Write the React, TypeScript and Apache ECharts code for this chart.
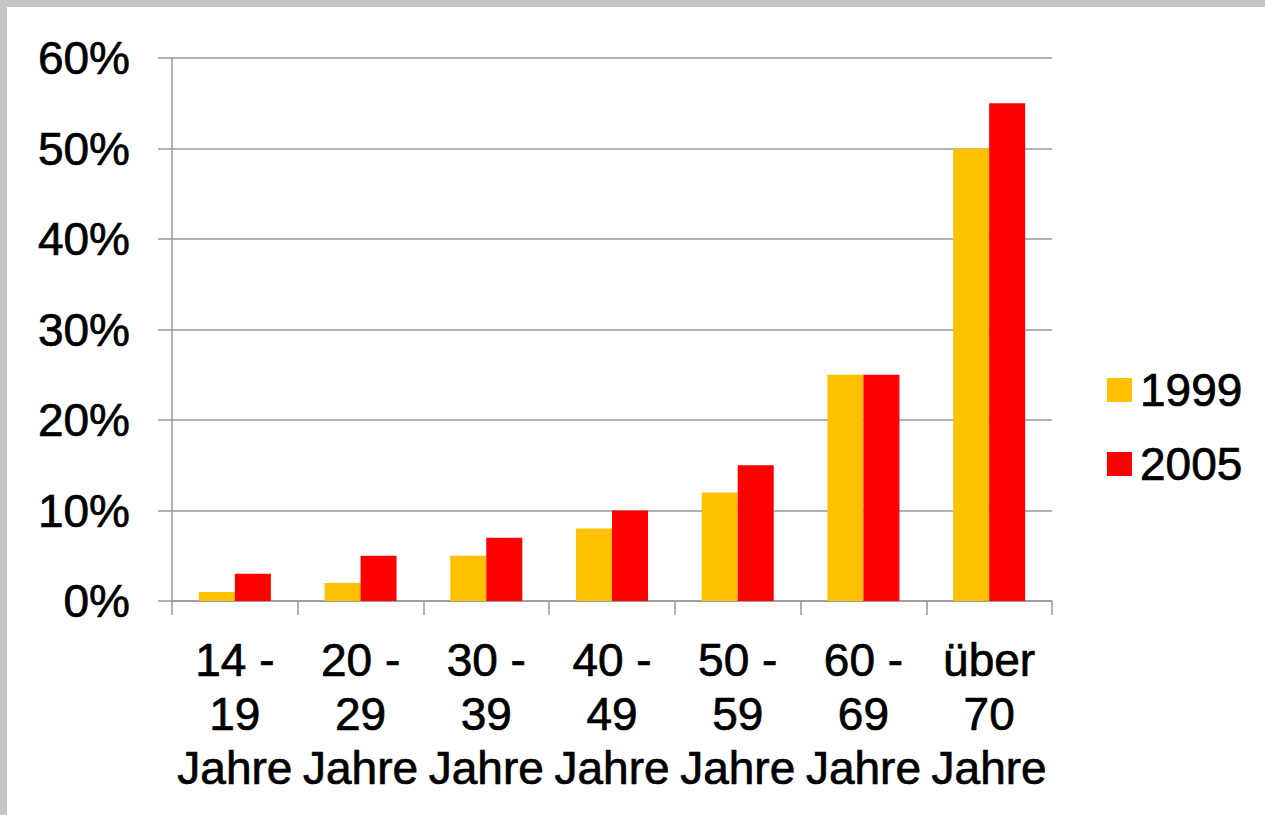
import React, { useEffect, useRef } from "react";
import * as echarts from "echarts";

const categories = [
  "14 -\n19\nJahre",
  "20 -\n29\nJahre",
  "30 -\n39\nJahre",
  "40 -\n49\nJahre",
  "50 -\n59\nJahre",
  "60 -\n69\nJahre",
  "über\n70\nJahre",
];
const values1999 = [1, 2, 5, 8, 12, 25, 50];
const values2005 = [3, 5, 7, 10, 15, 25, 55];
const seriesNames = ["1999", "2005"];

const FONT = "'Liberation Sans', Arial, sans-serif";
const THICK = { textBorderColor: "#000", textBorderWidth: 0.7 };

export default function App() {
  const ref = useRef<HTMLDivElement>(null);
  useEffect(() => {
    if (!ref.current) return;
    const chart = echarts.init(ref.current, null, { renderer: "svg" });
    chart.setOption({
      animation: false,
      backgroundColor: "#c6c6c6",
      graphic: [
        {
          type: "rect",
          z: -10,
          silent: true,
          shape: { x: 7, y: 7, width: 1258, height: 808 },
          style: { fill: "#ffffff" },
        },
      ],
      textStyle: { fontFamily: FONT },
      grid: { left: 172, right: 213, top: 58, bottom: 214 },
      legend: {
        orient: "vertical",
        left: 1102,
        top: 360,
        itemWidth: 25,
        itemHeight: 24,
        itemGap: 24,
        icon: "rect",
        data: seriesNames,
        textStyle: {
          fontFamily: FONT,
          fontSize: 46,
          color: "#000",
          lineHeight: 50,
          padding: [0, 0, 0, 3],
          ...THICK,
        },
      },
      xAxis: {
        type: "category",
        data: categories,
        axisLine: { show: true, lineStyle: { color: "#999", width: 1.5 } },
        axisTick: { show: true, length: 14, lineStyle: { color: "#999", width: 1.5 } },
        axisLabel: {
          fontFamily: FONT,
          fontSize: 46,
          lineHeight: 54,
          color: "#000",
          margin: 32,
          interval: 0,
          ...THICK,
        },
      },
      yAxis: {
        type: "value",
        min: 0,
        max: 60,
        interval: 10,
        axisLine: { show: true, lineStyle: { color: "#999", width: 1.5 } },
        axisTick: { show: true, length: 14, lineStyle: { color: "#999", width: 1.5 } },
        splitLine: { show: true, lineStyle: { color: "#999", width: 1.5 } },
        axisLabel: {
          fontFamily: FONT,
          fontSize: 46,
          color: "#000",
          margin: 42,
          formatter: "{value}%",
          ...THICK,
        },
      },
      series: [
        {
          name: seriesNames[0],
          type: "bar",
          data: values1999,
          barWidth: 36,
          barGap: "0%",
          itemStyle: { color: "#FFC000" },
        },
        {
          name: seriesNames[1],
          type: "bar",
          data: values2005,
          barWidth: 36,
          barGap: "0%",
          itemStyle: { color: "#FF0000" },
        },
      ],
    });
    return () => chart.dispose();
  }, []);
  return (
    <div
      ref={ref}
      style={{ position: "fixed", left: 0, top: 0, width: 1265, height: 815 }}
    />
  );
}
